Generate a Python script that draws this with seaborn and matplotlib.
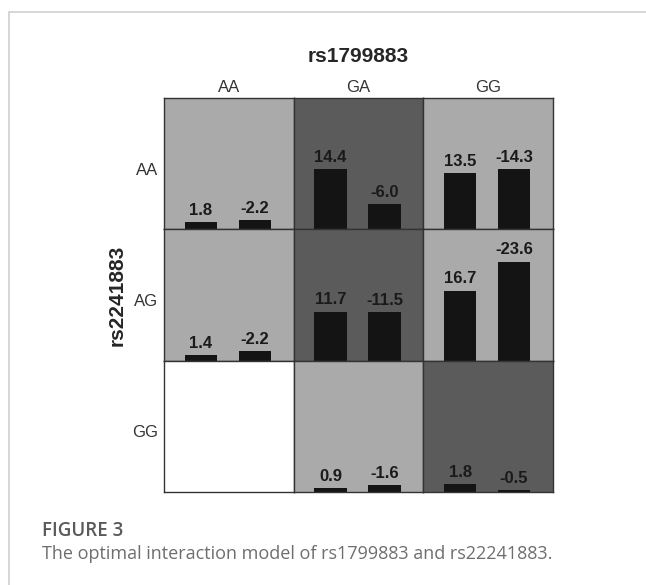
import matplotlib
matplotlib.use("Agg")
import seaborn as sns
from matplotlib import pyplot as plt
from matplotlib.lines import Line2D

# genotype categories
col_labels = ['AA', 'GA', 'GG']   # rs1799883
row_labels = ['AA', 'AG', 'GG']   # rs2241883

# left bar (cases) / right bar (controls), one list per row
case_vals = [[1.8, 14.4, 13.5],
             [1.4, 11.7, 16.7],
             [None, 0.9, 1.8]]
ctrl_vals = [[-2.2, -6.0, -14.3],
             [-2.2, -11.5, -23.6],
             [None, -1.6, -0.5]]

# cell risk class: 'low', 'high' or 'empty'
risk = [['low', 'high', 'low'],
        ['low', 'high', 'low'],
        ['empty', 'low', 'high']]

cell_colors = {'low': '#aaaaaa', 'high': '#5b5b5b', 'empty': 'white'}

sns.set_style('white')
plt.rcParams['font.family'] = ['Liberation Sans', 'DejaVu Sans']

fig = plt.figure(figsize=(6.46, 5.85), dpi=100)
gs = fig.add_gridspec(3, 3, left=164/646, right=553/646, top=1-98/585,
                      bottom=1-492/585, wspace=0, hspace=0)

for i in range(3):
    for j in range(3):
        ax = fig.add_subplot(gs[i, j])
        ax.set_facecolor(cell_colors[risk[i][j]])
        if case_vals[i][j] is not None:
            vals = [case_vals[i][j], ctrl_vals[i][j]]
            sns.barplot(x=['case', 'control'], y=[abs(v) for v in vals], color='#141414',
                        saturation=1, width=0.6, linewidth=0, ax=ax)
            for k, v in enumerate(vals):
                ax.annotate(f"{v:.1f}", (k, abs(v)), xytext=(0, 3), textcoords='offset points',
                            ha='center', va='bottom', fontsize=12, fontweight='bold', color='#1a1a1a')
        ax.set_xlim(-0.687, 1.723)
        ax.set_ylim(0, 31.3)
        ax.set_xticks([])
        ax.set_yticks([])
        ax.set_xlabel('')
        ax.set_ylabel('')
        for s in ax.spines.values():
            s.set_color('#333333')
            s.set_linewidth(1.0)
        if i == 0:
            ax.set_title(col_labels[j], fontsize=12, pad=4, color='#333333')
        if j == 0:
            ax.set_ylabel(row_labels[i], rotation=0, ha='right', va='center',
                          fontsize=12, color='#333333')
            ax.yaxis.set_label_coords(-0.045, 0.45)

fig.text(358.5/646, 1-56/585, 'rs1799883', ha='center', va='center', fontsize=15, fontweight='bold')
fig.text(117/646, 1-295/585, 'rs2241883', ha='center', va='center', rotation=90,
         fontsize=15, fontweight='bold')

# frame around the figure panel
fig.add_artist(Line2D([9/646, 1], [1-12/585, 1-12/585], color='#d3d3d3', lw=1.3))
fig.add_artist(Line2D([9/646, 9/646], [1-12/585, 0], color='#d3d3d3', lw=1.3))

fig.text(42/646, 1-531/585, 'FIGURE 3', ha='left', va='center', fontsize=13.5,
         fontfamily='Open Sans', fontweight='semibold', color='#5a5a5a')
fig.text(42/646, 1-554/585, 'The optimal interaction model of rs1799883 and rs22241883.',
         ha='left', va='center', fontsize=13, fontfamily='Open Sans', color='#6e6e6e')

plt.savefig('out.png', dpi=100)
